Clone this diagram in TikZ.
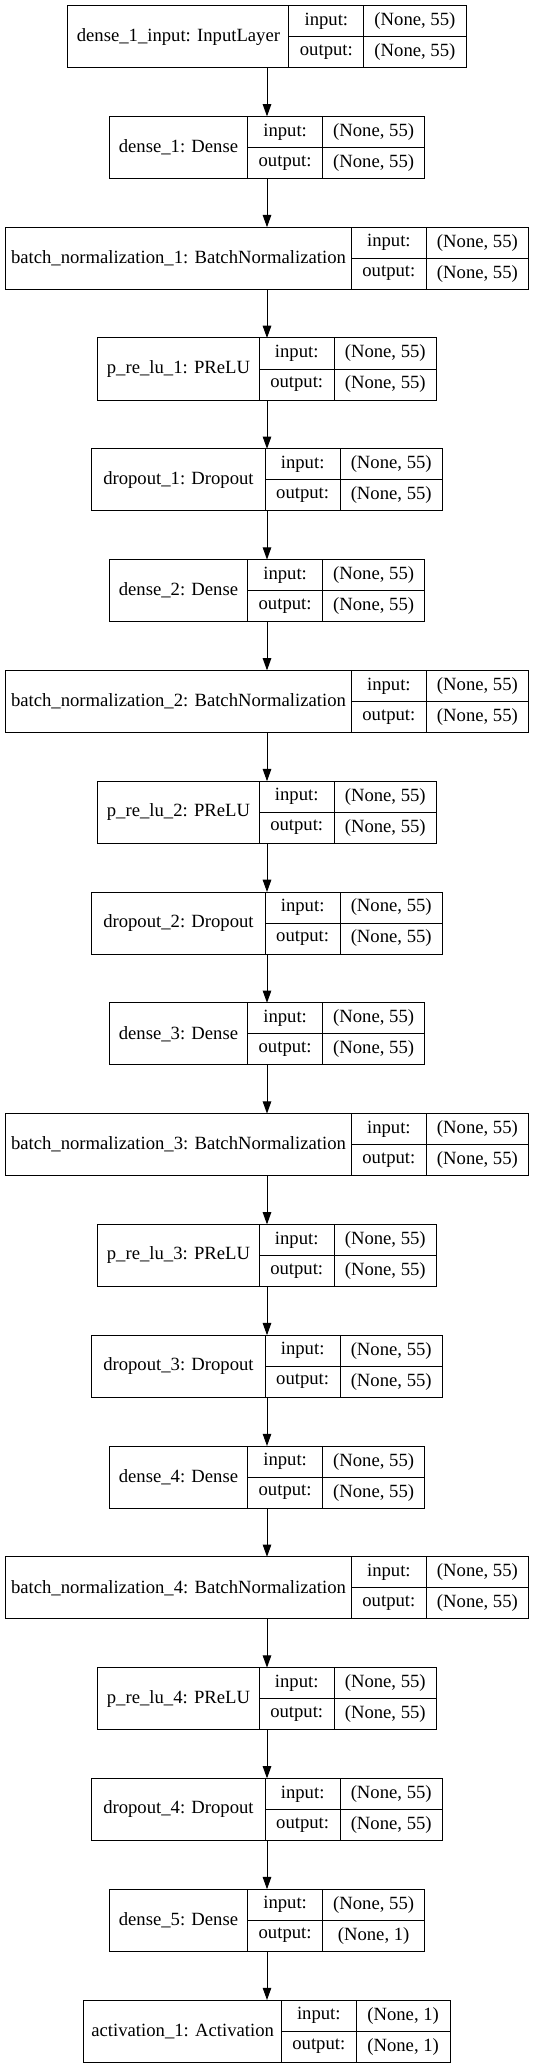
\documentclass[tikz,border=0pt]{standalone}
\usepackage{fontspec}
\setmainfont{Liberation Serif}
\usetikzlibrary{arrows.meta}
\usetikzlibrary{positioning}

\begin{document}
\begin{tikzpicture}[
    x=0.75pt, y=-0.75pt,
    % Define cell and connector styles
    cell/.style={draw, line width=0.75pt, inner sep=0pt, outer sep=0pt,
        minimum height=31*\px, font=\fontsize{14}{16}\selectfont},
    frame/.style={inner sep=0pt, outer sep=0pt, minimum height=62*\px},
    conn/.style={-{Triangle[length=9.2pt, width=6.4pt]}, line width=0.75pt}
]

% Define pixel size, key column width and layer spacing
\def\px{0.75pt}
\def\keyw{74.8}
\def\layerstep{110.8}

\useasboundingbox (0,0) rectangle (535,2065);

% Layers: name / label / label width / shape width / input / output
\foreach \name/\lbl/\lw/\sw/\shin/\shout [count=\i from 0, remember=\name as \prev (initially none)] in {
    input1/{dense\_1\_input: InputLayer}/221/102.3/55/55,
    dense1/{dense\_1: Dense}/138.5/102.3/55/55,
    bn1/{batch\_normalization\_1: BatchNormalization}/346/102.3/55/55,
    prelu1/{p\_re\_lu\_1: PReLU}/161.7/102.3/55/55,
    drop1/{dropout\_1: Dropout}/173.6/102.3/55/55,
    dense2/{dense\_2: Dense}/138.5/102.3/55/55,
    bn2/{batch\_normalization\_2: BatchNormalization}/346/102.3/55/55,
    prelu2/{p\_re\_lu\_2: PReLU}/161.7/102.3/55/55,
    drop2/{dropout\_2: Dropout}/173.6/102.3/55/55,
    dense3/{dense\_3: Dense}/138.5/102.3/55/55,
    bn3/{batch\_normalization\_3: BatchNormalization}/346/102.3/55/55,
    prelu3/{p\_re\_lu\_3: PReLU}/161.7/102.3/55/55,
    drop3/{dropout\_3: Dropout}/173.6/102.3/55/55,
    dense4/{dense\_4: Dense}/138.5/102.3/55/55,
    bn4/{batch\_normalization\_4: BatchNormalization}/346/102.3/55/55,
    prelu4/{p\_re\_lu\_4: PReLU}/161.7/102.3/55/55,
    drop4/{dropout\_4: Dropout}/173.6/102.3/55/55,
    dense5/{dense\_5: Dense}/138.5/102.3/55/1,
    act1/{activation\_1: Activation}/197.5/93.9/1/1%
}{
    \pgfmathsetmacro{\tw}{\lw+\keyw+\sw}
    \pgfmathsetmacro{\yc}{5.6+31+\i*\layerstep}
    % Whole layer box, used for the connectors
    \node[frame, minimum width=\tw*\px] (\name) at (267,\yc) {};
    % Label and shape cells
    \node[cell, minimum width=\lw*\px, minimum height=62*\px, anchor=west] (\name-lbl) at (\name.west) {\lbl};
    \node[cell, minimum width=\keyw*\px, anchor=north west] (\name-ik) at (\name-lbl.north east) {input:};
    \node[cell, minimum width=\keyw*\px, anchor=north west] (\name-ok) at (\name-ik.south west) {output:};
    \node[cell, minimum width=\sw*\px, anchor=north west] (\name-iv) at (\name-ik.north east) {(None, \shin)};
    \node[cell, minimum width=\sw*\px, anchor=north west] (\name-ov) at (\name-iv.south west) {(None, \shout)};
    % Connector from the layer above
    \ifnum\i>0 \draw[conn] (\prev.south) -- (\name.north); \fi
}

\end{tikzpicture}
\end{document}
